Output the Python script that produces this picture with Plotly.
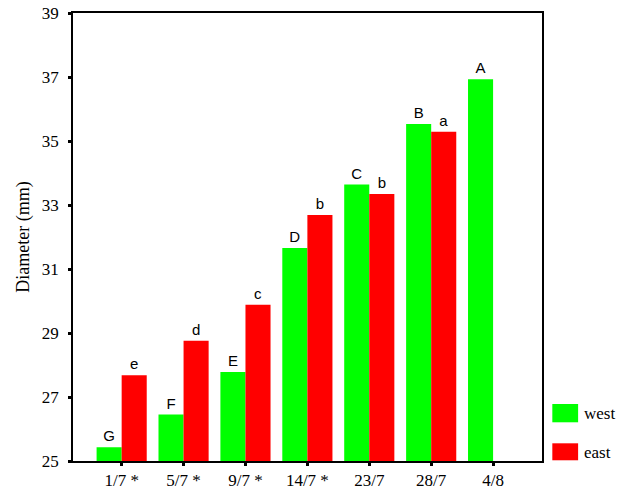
import plotly.graph_objects as go

# Sampling dates (asterisk marks dates with a significant west/east difference)
dates = ["1/7 *", "5/7 *", "9/7 *", "14/7 *", "23/7", "28/7", "4/8"]

# Mean fruit diameter (mm) per side of the tree
west = [25.43, 26.45, 27.78, 31.66, 33.64, 35.53, 36.93]
east = [27.68, 28.76, 29.88, 32.69, 33.34, 35.29, None]

# Significance letters shown above each bar
west_letters = ["G", "F", "E", "D", "C", "B", "A"]
east_letters = ["e", "d", "c", "b", "b", "a", ""]

y_ticks = [25, 27, 29, 31, 33, 35, 37, 39]

GREEN = "#00FF00"
RED = "#FF0000"
SERIF = "Liberation Serif"
SANS = "Liberation Sans"

fig = go.Figure()
fig.add_trace(go.Bar(
    x=dates, y=west, name="west", marker=dict(color=GREEN, line=dict(width=0)),
    text=west_letters, textposition="outside", cliponaxis=False,
    textfont=dict(family=SANS, size=15, color="black"),
))
fig.add_trace(go.Bar(
    x=dates, y=east, name="east", marker=dict(color=RED, line=dict(width=0)),
    text=east_letters, textposition="outside", cliponaxis=False,
    textfont=dict(family=SANS, size=15, color="black"),
))

# Legend drawn to the right of the plot area with large swatches
legend_items = [("west", GREEN, 0.1272, 0.0864, 0.107), ("east", RED, 0.0395, 0.0016, 0.020)]
for label, color, y0, y1, ytxt in legend_items:
    fig.add_shape(type="rect", xref="paper", yref="paper",
                  x0=1.022, x1=1.077, y0=y1, y1=y0,
                  fillcolor=color, line=dict(width=0))
    fig.add_annotation(x=1.086, y=ytxt, xref="paper", yref="paper",
                       text=label, showarrow=False, xanchor="left", yanchor="middle",
                       font=dict(family=SERIF, size=17, color="black"))

fig.update_layout(
    width=617, height=489,
    margin=dict(l=73, r=75, t=13, b=28, autoexpand=False),
    paper_bgcolor="white", plot_bgcolor="white",
    barmode="group", bargap=0.19, bargroupgap=0,
    showlegend=False,
    font=dict(family=SERIF, size=16, color="black"),
)
fig.update_xaxes(
    range=[-0.786, 6.79], showgrid=False, zeroline=False, automargin=False,
    showline=True, linecolor="black", linewidth=1.5, mirror=True,
    ticks="outside", ticklen=3, tickwidth=3, tickcolor="black",
    tickfont=dict(family=SERIF, size=17),
)
fig.update_yaxes(
    range=[25, 39], tickvals=y_ticks, showgrid=False, zeroline=False, automargin=False,
    showline=True, linecolor="black", linewidth=1.5, mirror=True,
    ticks="outside", ticklen=3, tickwidth=3, tickcolor="black",
    tickfont=dict(family=SERIF, size=17), ticklabelstandoff=6,
    title=dict(text="Diameter (mm)", font=dict(family=SERIF, size=18), standoff=8),
)

fig.write_html("out.html")
